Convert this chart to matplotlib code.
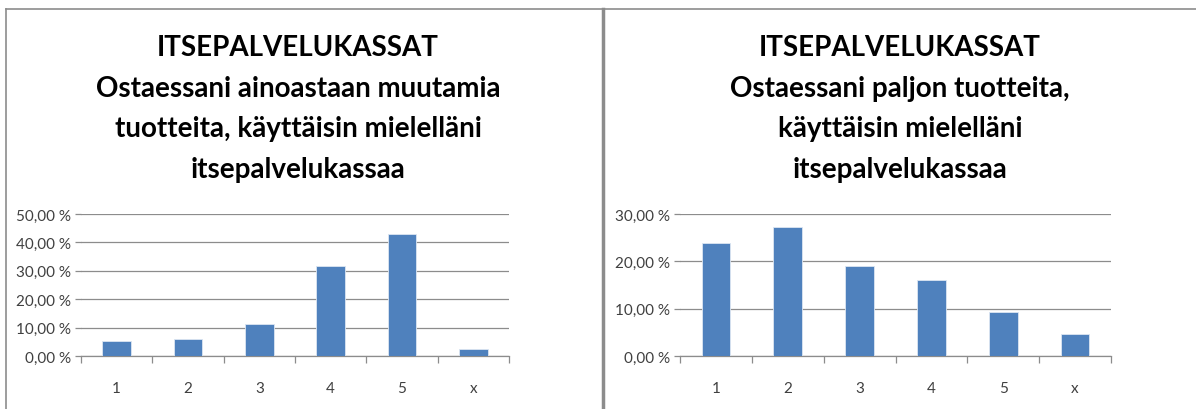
import matplotlib
matplotlib.use("Agg")
import matplotlib.pyplot as plt
from matplotlib.lines import Line2D
from matplotlib.ticker import FixedLocator, FuncFormatter

categories = ['1', '2', '3', '4', '5', 'x']
few_items = [5.2, 6.1, 11.2, 31.6, 42.9, 2.3]
many_items = [23.8, 27.2, 19.0, 16.1, 9.2, 4.7]

title_left = "ITSEPALVELUKASSAT\nOstaessani ainoastaan muutamia\ntuotteita, käyttäisin mielelläni\nitsepalvelukassaa"
title_right = "ITSEPALVELUKASSAT\nOstaessani paljon tuotteita,\nkäyttäisin mielelläni\nitsepalvelukassaa"

W, H = 1196, 410
bar_color = '#4f81bd'
grid_color = '#8c8c8c'
text_color = '#404040'
font = ['Lato', 'DejaVu Sans']

fig = plt.figure(figsize=(W / 100, H / 100), dpi=100)


def pct(v, pos):
    return f"{v:.2f}".replace('.', ',') + " %"


def panel(rect, values, ymax, step, title, cx):
    ax = fig.add_axes([rect[0] / W, 1 - rect[3] / H, (rect[2] - rect[0]) / W, (rect[3] - rect[1]) / H])
    x = range(len(categories))
    ax.bar(x, values, width=0.4, color=bar_color, edgecolor='#dce6f2', linewidth=0.6, zorder=3)
    ax.set_xlim(-0.5, len(categories) - 0.5)
    ax.set_ylim(0, ymax)
    ax.yaxis.set_major_locator(FixedLocator([i * step for i in range(int(ymax / step) + 1)]))
    ax.yaxis.set_major_formatter(FuncFormatter(pct))
    ax.grid(axis='y', color=grid_color, linewidth=0.9, zorder=0)
    ax.set_xticks(list(x))
    ax.set_xticklabels(categories, family=font)
    ax.set_xticks([i - 0.5 for i in range(len(categories) + 1)], minor=True)
    ax.tick_params(axis='x', which='major', length=0, pad=18, labelsize=11, labelcolor=text_color)
    ax.tick_params(axis='x', which='minor', length=5, color=grid_color, width=0.9)
    ax.tick_params(axis='y', length=4, color=grid_color, width=0.9, labelsize=11, labelcolor=text_color, pad=3)
    for lab in ax.get_yticklabels():
        lab.set_family(font)
    for s in ['top', 'right', 'left']:
        ax.spines[s].set_visible(False)
    ax.spines['bottom'].set_color(grid_color)
    ax.spines['bottom'].set_linewidth(0.9)
    fig.text(cx / W, 1 - 35 / H, title, ha='center', va='top', fontsize=20, fontweight='bold',
             family=font, linespacing=1.70)
    return ax


panel((81, 215, 509, 357), few_items, 50, 10, title_left, 298)
panel((680, 215, 1111, 357), many_items, 30, 10, title_right, 900)

# frame lines of the two chart boxes
fig.add_artist(Line2D([6 / W, 1], [1 - 10 / H, 1 - 10 / H], color='#8c8c8c', linewidth=1.2))
fig.add_artist(Line2D([6 / W, 6 / W], [0, 1 - 10 / H], color='#8c8c8c', linewidth=1.2))
fig.add_artist(Line2D([603 / W, 603 / W], [0, 1 - 10 / H], color='#8c8c8c', linewidth=2.5))

fig.savefig('out.png', dpi=100)
